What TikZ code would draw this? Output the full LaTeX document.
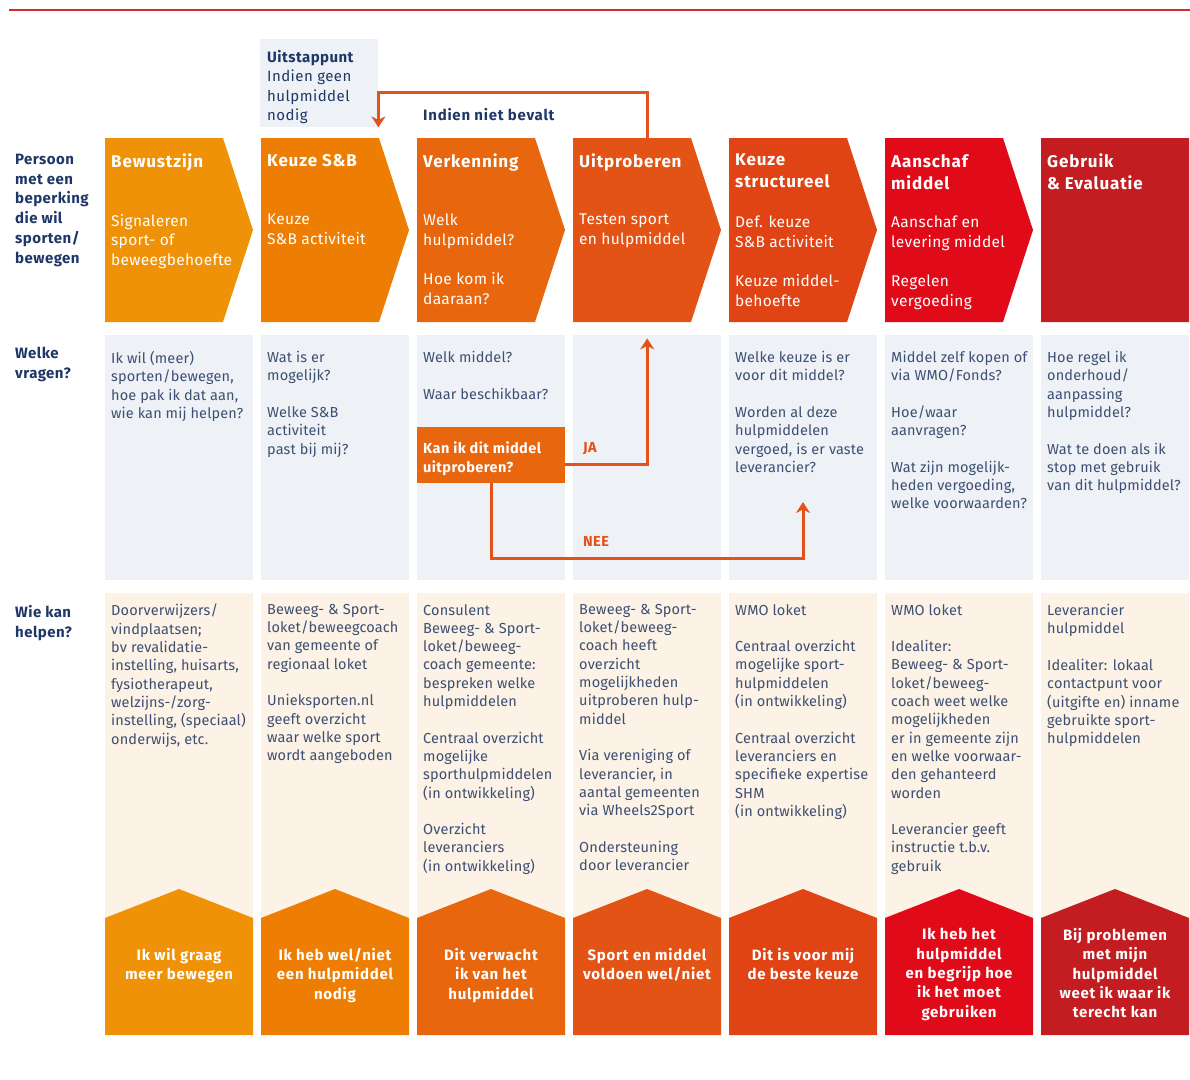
\documentclass[tikz,border=0pt]{standalone}
\usepackage{fontspec}
\setmainfont{Fira Sans}
\usepackage{tikz}
\usetikzlibrary{arrows.meta}
\usetikzlibrary{positioning}

\definecolor{stap1}{HTML}{EF9207}
\definecolor{stap2}{HTML}{EE7E03}
\definecolor{stap3}{HTML}{E7660E}
\definecolor{stap4}{HTML}{E35315}
\definecolor{stap5}{HTML}{E04414}
\definecolor{stap6}{HTML}{E10A18}
\definecolor{stap7}{HTML}{C31C21}
\definecolor{navy}{HTML}{1E3767}
\definecolor{tekst}{HTML}{3D4F72}
\definecolor{lijn}{HTML}{E3521B}
\definecolor{vraagbg}{HTML}{EEF2F7}
\definecolor{hulpbg}{HTML}{FCF2E5}
\definecolor{rood}{HTML}{D42A2F}

\begin{document}
\begin{tikzpicture}[x=1pt,y=-1pt]
        \tikzstyle{vak}=[anchor=north west,inner sep=0,minimum width=148]
        \tikzstyle{kop}=[anchor=north west,inner sep=0,align=left,text=white,font=\fontsize{17}{22}\selectfont\bfseries\addfontfeature{LetterSpace=5}]
        \tikzstyle{wit}=[anchor=north west,inner sep=0,align=left,text=white,font=\fontsize{15.5}{19.5}\selectfont\addfontfeature{LetterSpace=2}]
        \tikzstyle{vraag}=[anchor=north west,inner sep=0,align=left,text=tekst,font=\fontsize{14.5}{18.3}\selectfont\addfontfeature{LetterSpace=1}]
        \tikzstyle{rij}=[anchor=north west,inner sep=0,align=left,text=navy,font=\fontsize{15}{19.7}\selectfont\bfseries\addfontfeature{LetterSpace=3}]
        \tikzstyle{huis}=[anchor=north,inner sep=0,align=center,text=white,font=\fontsize{15}{19.4}\selectfont\bfseries\addfontfeature{LetterSpace=5}]
        \tikzstyle{keuze}=[anchor=west,inner sep=0,text=lijn,font=\fontsize{14.5}{18}\selectfont\bfseries\addfontfeature{LetterSpace=3}]
        \tikzstyle{flow}=[draw=lijn,line width=3pt,-{Stealth[length=11pt,width=14pt]}]
        \useasboundingbox (0,0) rectangle (1190,1079);
        \draw[rood,line width=2pt] (9,10) -- (1190,10);
        \foreach \i/\kleur/\punt in {1/stap1/30,2/stap2/30,3/stap3/30,4/stap4/30,5/stap5/30,6/stap6/30,7/stap7/0} {
          \pgfmathsetmacro{\x}{105+156*(\i-1)}
          \fill[\kleur] (\x,138) -- ++(148-\punt,0) -- ++(\punt,92) -- ++(-\punt,92) -- ++(\punt-148,0) -- cycle;
          \node[vak,minimum height=184] (h\i) at (\x,138) {};
          \node[vak,fill=vraagbg,minimum height=245] (q\i) at (\x,335) {};
          \node[vak,fill=hulpbg,minimum height=442] (w\i) at (\x,593) {};
          \fill[\kleur] (\x,918) -- ++(74,-29) -- ++(74,29) -- ++(0,117) -- ++(-148,0) -- cycle;
        }
        \node[rij] (persoon) at (15,154) {Persoon\\met een\\beperking\\die wil\\sporten/\\bewegen};
        \node[rij] (vragen) at (15,347) {Welke\\vragen?};
        \node[rij] (helpen) at (15,605) {Wie kan\\helpen?};
        \node[vak,fill=vraagbg,minimum width=118,minimum height=88] (uitstap) at (260,39) {};
        \node[rij,font=\fontsize{15}{19.4}\selectfont\addfontfeature{LetterSpace=3}] (uitstaptekst) at (267,50) {\textbf{Uitstappunt}\\Indien geen\\hulpmiddel\\nodig};
        \node[rij,anchor=west,font=\fontsize{15}{19}\selectfont\bfseries\addfontfeature{LetterSpace=5}] (bevalt) at (423,115) {Indien niet bevalt};
        \node[kop] (kop1) at (111,154) {Bewustzijn};
        \node[kop] (kop2) at (267,154) {Keuze S\&B};
        \node[kop] (kop3) at (423,154) {Verkenning};
        \node[kop] (kop4) at (579,154) {Uitproberen};
        \node[kop] (kop5) at (735,154) {Keuze\\structureel};
        \node[kop] (kop6) at (891,154) {Aanschaf\\middel};
        \node[kop] (kop7) at (1047,154) {Gebruik\\\& Evaluatie};
        \node[wit] (stap1) at (111,214) {Signaleren\\sport- of\\beweegbehoefte};
        \node[wit] (stap2) at (267,214) {Keuze\\S\&B activiteit};
        \node[wit] (stap3) at (423,214) {Welk\\hulpmiddel?\\[20pt]Hoe kom ik\\daaraan?};
        \node[wit] (stap4) at (579,214) {Testen sport\\en hulpmiddel};
        \node[wit] (stap5) at (735,216) {Def. keuze\\S\&B activiteit\\[20pt]Keuze middel-\\behoefte};
        \node[wit] (stap6) at (891,216) {Aanschaf en\\levering middel\\[20pt]Regelen\\vergoeding};
        \node[vraag] (vraag1) at (111,351) {Ik wil (meer)\\sporten/bewegen,\\hoe pak ik dat aan,\\wie kan mij helpen?};
        \node[vraag] (vraag2) at (267,351) {Wat is er\\mogelijk?\\[18.3pt]Welke S\&B\\activiteit\\past bij mij?};
        \node[vraag] (vraag3) at (423,351) {Welk middel?\\[18.3pt]Waar beschikbaar?};
        \node[vraag] (vraag5) at (735,351) {Welke keuze is er\\voor dit middel?\\[18.3pt]Worden al deze\\hulpmiddelen\\vergoed, is er vaste\\leverancier?};
        \node[vraag] (vraag6) at (891,351) {Middel zelf kopen of\\via WMO/Fonds?\\[18.3pt]Hoe/waar\\aanvragen?\\[18.3pt]Wat zijn mogelijk-\\heden vergoeding,\\welke voorwaarden?};
        \node[vraag] (vraag7) at (1047,351) {Hoe regel ik\\onderhoud/\\aanpassing\\hulpmiddel?\\[18.3pt]Wat te doen als ik\\stop met gebruik\\van dit hulpmiddel?};
        \node[vak,fill=stap3,minimum height=56] (kan) at (417,427) {};
        \node[kop,font=\fontsize{14.5}{19}\selectfont\bfseries\addfontfeature{LetterSpace=3}] (kantekst) at (423,442) {Kan ik dit middel\\uitproberen?};
        \node[keuze] (ja) at (583,449) {JA};
        \node[keuze] (nee) at (583,541) {NEE};
        \coordinate (neepijl) at (803,502);
        \node[vraag] (hulp1) at (111,604) {Doorverwijzers/\\vindplaatsen;\\bv revalidatie-\\instelling, huisarts,\\fysiotherapeut,\\welzijns-/zorg-\\instelling, (speciaal)\\onderwijs, etc.};
        \node[vraag] (hulp2) at (267,604) {Beweeg- \& Sport-\\loket/beweegcoach\\van gemeente of\\regionaal loket\\[18.3pt]Unieksporten.nl\\geeft overzicht\\waar welke sport\\wordt aangeboden};
        \node[vraag] (hulp3) at (423,604) {Consulent\\Beweeg- \& Sport-\\loket/beweeg-\\coach gemeente:\\bespreken welke\\hulpmiddelen\\[18.3pt]Centraal overzicht\\mogelijke\\sporthulpmiddelen\\(in ontwikkeling)\\[18.3pt]Overzicht\\leveranciers\\(in ontwikkeling)};
        \node[vraag] (hulp4) at (579,604) {Beweeg- \& Sport-\\loket/beweeg-\\coach heeft\\overzicht\\mogelijkheden\\uitproberen hulp-\\middel\\[18.3pt]Via vereniging of\\leverancier, in\\aantal gemeenten\\via Wheels2Sport\\[18.3pt]Ondersteuning\\door leverancier};
        \node[vraag] (hulp5) at (735,604) {WMO loket\\[18.3pt]Centraal overzicht\\mogelijke sport-\\hulpmiddelen\\(in ontwikkeling)\\[18.3pt]Centraal overzicht\\leveranciers en\\specifieke expertise\\SHM\\(in ontwikkeling)};
        \node[vraag] (hulp6) at (891,604) {WMO loket\\[18.3pt]Idealiter:\\Beweeg- \& Sport-\\loket/beweeg-\\coach weet welke\\mogelijkheden\\er in gemeente zijn\\en welke voorwaar-\\den gehanteerd\\worden\\[18.3pt]Leverancier geeft\\instructie t.b.v.\\gebruik};
        \node[vraag] (hulp7) at (1047,604) {Leverancier\\hulpmiddel\\[18.3pt]Idealiter: lokaal\\contactpunt voor\\(uitgifte en) inname\\gebruikte sport-\\hulpmiddelen};
        \node[huis] (doel1) at (179,948) {Ik wil graag\\meer bewegen};
        \node[huis] (doel2) at (335,948) {Ik heb wel/niet\\een hulpmiddel\\nodig};
        \node[huis] (doel3) at (491,948) {Dit verwacht\\ik van het\\hulpmiddel};
        \node[huis] (doel4) at (647,948) {Sport en middel\\voldoen wel/niet};
        \node[huis] (doel5) at (803,948) {Dit is voor mij\\de beste keuze};
        \node[huis] (doel6) at (959,928) {Ik heb het\\hulpmiddel\\en begrijp hoe\\ik het moet\\gebruiken};
        \node[huis] (doel7) at (1115,928) {Bij problemen\\met mijn\\hulpmiddel\\weet ik waar ik\\terecht kan};
        \draw[flow] (h4.north) -- ++(0,-46) -| (uitstap.south east);
        \draw[flow,shorten >=16pt] ([yshift=-9pt]kan.east) -| (h4.south);
        \draw[flow] (kan.south) -- ++(0,75) -| (neepijl);
\end{tikzpicture}
\end{document}
